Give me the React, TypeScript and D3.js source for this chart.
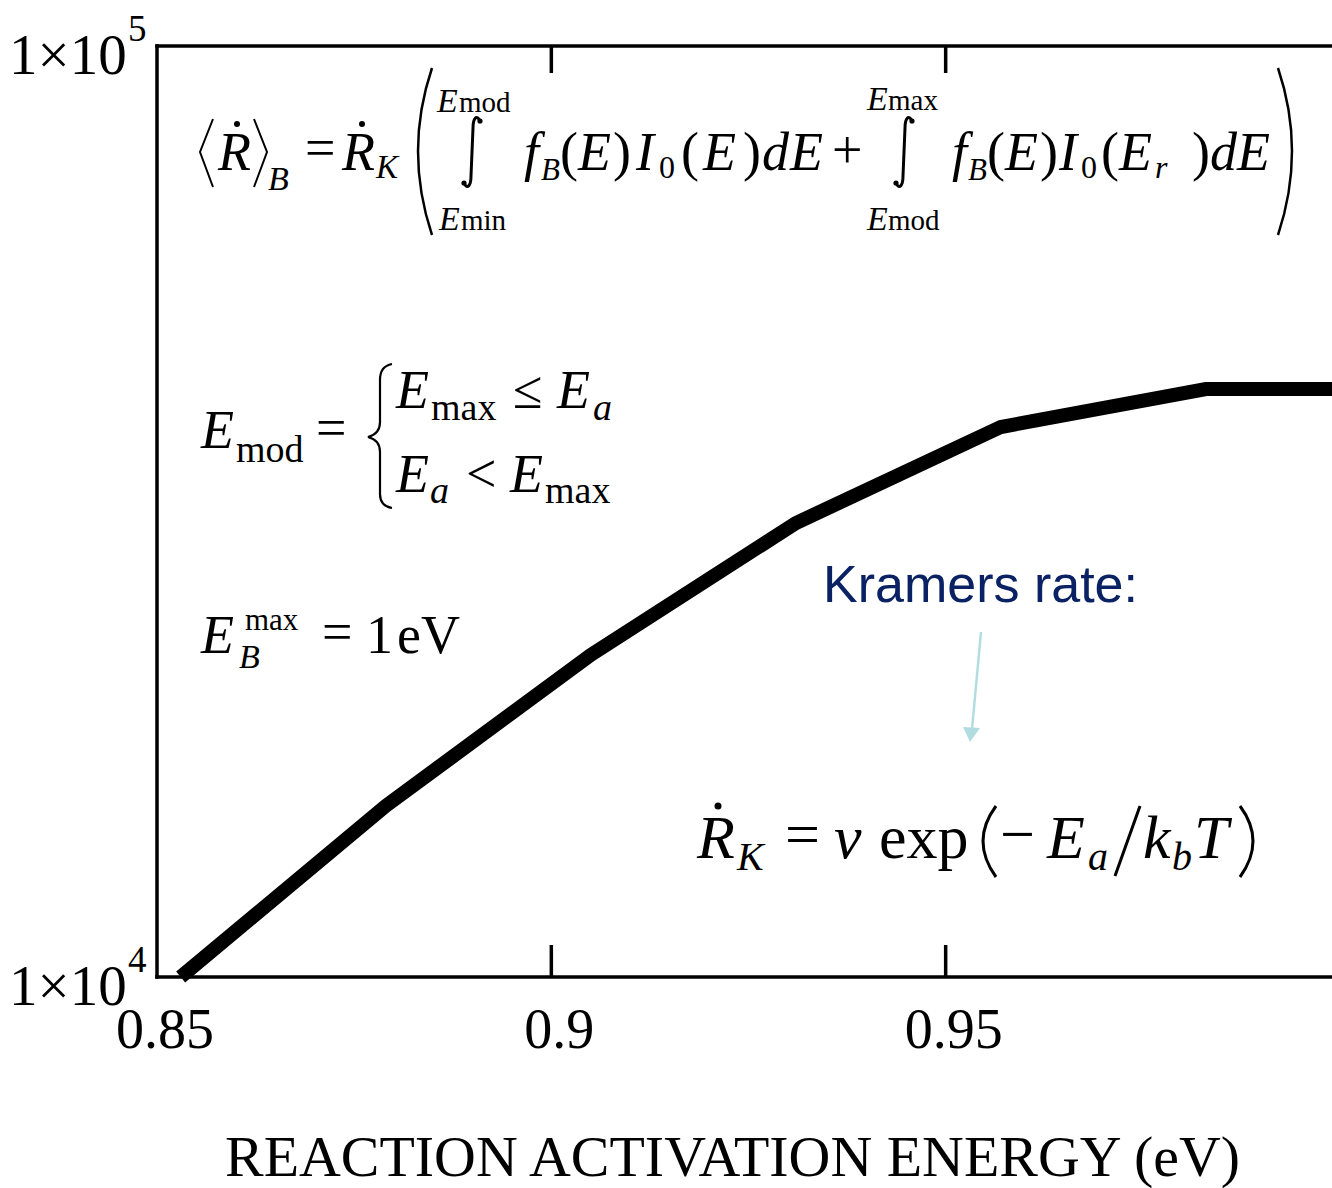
import React from "react";
import * as d3 from "d3";

const W = 1332;
const H = 1188;

// data
const energy = [0.853, 0.879, 0.905, 0.931, 0.957, 0.983, 1.0];
const rate = [10000, 15265, 22180, 30730, 38970, 42810, 42810];
const xTicks = [0.85, 0.9, 0.95];
const xTickLabels = ["0.85", "0.9", "0.95"];
const yTicks = [100000, 10000];
const yTickExp = ["5", "4"];
const xTitle = "REACTION ACTIVATION ENERGY (eV)";
const note = "Kramers rate:";

const SERIF = "'Liberation Serif', 'Times New Roman', Times, serif";
const SANS = "'Liberation Sans', Arial, Helvetica, sans-serif";

type P = { t: string; x: number; y: number; s: number; i?: boolean };

function Formula({ items }: { items: P[] }) {
  return (
    <text fontFamily={SERIF} fill="#000">
      {items.map((p, k) => (
        <tspan key={k} x={p.x} y={p.y} fontSize={p.s} fontStyle={p.i ? "italic" : "normal"}>
          {p.t}
        </tspan>
      ))}
    </text>
  );
}

function Integral({ x, y0, y1 }: { x: number; y0: number; y1: number }) {
  const d = `M ${x + 8} ${y0 + 5} C ${x + 5} ${y0 - 2}, ${x + 1} ${y0 + 2}, ${x + 1} ${y0 + 12} L ${x - 1} ${y1 - 12} C ${x - 1} ${y1 - 2}, ${x - 5} ${y1 + 2}, ${x - 8} ${y1 - 5}`;
  return (
    <g>
      <path d={d} fill="none" stroke="#000" strokeWidth={3} />
      <circle cx={x + 8} cy={y0 + 5} r={2.6} fill="#000" />
      <circle cx={x - 8} cy={y1 - 5} r={2.6} fill="#000" />
    </g>
  );
}

export default function App() {
  const x = d3.scaleLinear().domain([0.85, 1.0]).range([157, 1340]);
  const y = d3.scaleLog().domain([10000, 100000]).range([977, 46]);
  const line = d3
    .line<number>()
    .x((_, i) => x(energy[i]))
    .y((d) => y(d));
  const pathD = line(rate) || "";

  const x0 = x(0.85);
  const yTop = y(100000);
  const yBot = y(10000);

  // formula 1 (main row)
  const f1: P[] = [
    { t: "R", x: 218, y: 170, s: 54, i: true },
    { t: "B", x: 268, y: 190, s: 34, i: true },
    { t: "=", x: 305, y: 166, s: 54 },
    { t: "R", x: 342, y: 170, s: 54, i: true },
    { t: "K", x: 376, y: 178, s: 33, i: true },
    { t: "f", x: 524, y: 170, s: 54, i: true },
    { t: "B", x: 541, y: 180, s: 31, i: true },
    { t: "(", x: 560, y: 170, s: 54 },
    { t: "E", x: 578, y: 170, s: 54, i: true },
    { t: ")", x: 613, y: 170, s: 54 },
    { t: "I", x: 636, y: 170, s: 54, i: true },
    { t: "0", x: 659, y: 178, s: 32 },
    { t: "(", x: 681, y: 170, s: 54 },
    { t: "E", x: 703, y: 170, s: 54, i: true },
    { t: ")", x: 743, y: 170, s: 54 },
    { t: "d", x: 762, y: 170, s: 54, i: true },
    { t: "E", x: 790, y: 170, s: 54, i: true },
    { t: "+", x: 832, y: 168, s: 54 },
    { t: "f", x: 952, y: 170, s: 54, i: true },
    { t: "B", x: 968, y: 180, s: 31, i: true },
    { t: "(", x: 987, y: 170, s: 54 },
    { t: "E", x: 1005, y: 170, s: 54, i: true },
    { t: ")", x: 1040, y: 170, s: 54 },
    { t: "I", x: 1059, y: 170, s: 54, i: true },
    { t: "0", x: 1081, y: 178, s: 32 },
    { t: "(", x: 1101, y: 170, s: 54 },
    { t: "E", x: 1119, y: 170, s: 54, i: true },
    { t: "r", x: 1155, y: 178, s: 32, i: true },
    { t: ")", x: 1192, y: 170, s: 54 },
    { t: "d", x: 1210, y: 170, s: 54, i: true },
    { t: "E", x: 1237, y: 170, s: 54, i: true },
  ];
  const f1Limits: P[] = [
    { t: "E", x: 437, y: 112, s: 34, i: true },
    { t: "mod", x: 459, y: 112, s: 29 },
    { t: "E", x: 439, y: 230, s: 34, i: true },
    { t: "min", x: 461, y: 230, s: 29 },
    { t: "E", x: 867, y: 110, s: 34, i: true },
    { t: "max", x: 888, y: 110, s: 29 },
    { t: "E", x: 867, y: 230, s: 34, i: true },
    { t: "mod", x: 888, y: 230, s: 29 },
  ];

  // formula 2
  const f2: P[] = [
    { t: "E", x: 201, y: 448, s: 54, i: true },
    { t: "mod", x: 236, y: 462, s: 38 },
    { t: "=", x: 316, y: 446, s: 54 },
    { t: "E", x: 396, y: 408, s: 54, i: true },
    { t: "max", x: 431, y: 420, s: 38 },
    { t: "≤", x: 513, y: 408, s: 54 },
    { t: "E", x: 557, y: 408, s: 54, i: true },
    { t: "a", x: 593, y: 420, s: 38, i: true },
    { t: "E", x: 396, y: 492, s: 54, i: true },
    { t: "a", x: 430, y: 503, s: 38, i: true },
    { t: "<", x: 466, y: 492, s: 54 },
    { t: "E", x: 510, y: 492, s: 54, i: true },
    { t: "max", x: 545, y: 503, s: 38 },
  ];

  // formula 3
  const f3: P[] = [
    { t: "E", x: 201, y: 653, s: 54, i: true },
    { t: "max", x: 245, y: 630, s: 31 },
    { t: "B", x: 239, y: 668, s: 34, i: true },
    { t: "=", x: 322, y: 650, s: 54 },
    { t: "1", x: 366, y: 653, s: 54 },
    { t: "eV", x: 397, y: 653, s: 54 },
  ];

  // formula 4
  const f4: P[] = [
    { t: "R", x: 697, y: 858, s: 62, i: true },
    { t: "K", x: 737, y: 870, s: 40, i: true },
    { t: "=", x: 785, y: 855, s: 62 },
    { t: "ν", x: 834, y: 858, s: 62, i: true },
    { t: "exp", x: 879, y: 858, s: 62 },
    { t: "−", x: 1000, y: 855, s: 62 },
    { t: "E", x: 1047, y: 858, s: 62, i: true },
    { t: "a", x: 1088, y: 870, s: 40, i: true },
    { t: "k", x: 1143, y: 858, s: 62, i: true },
    { t: "b", x: 1172, y: 870, s: 40, i: true },
    { t: "T", x: 1194, y: 858, s: 62, i: true },
  ];

  return (
    <svg
      width={W}
      height={H}
      viewBox={`0 0 ${W} ${H}`}
      style={{ position: "absolute", left: 0, top: 0, background: "#fff" }}
    >
      <rect x={0} y={0} width={W} height={H} fill="#fff" />

      {/* frame */}
      <g stroke="#000" strokeWidth={3.5} strokeLinecap="square">
        <line x1={x0} y1={yTop} x2={W + 5} y2={yTop} />
        <line x1={x0} y1={yBot} x2={W + 5} y2={yBot} />
        <line x1={x0} y1={yTop} x2={x0} y2={yBot} />
      </g>
      {/* ticks */}
      <g stroke="#000" strokeWidth={3.5}>
        {xTicks.slice(1).map((t, i) => (
          <g key={i}>
            <line x1={x(t)} x2={x(t)} y1={yTop} y2={yTop + 27} />
            <line x1={x(t)} x2={x(t)} y1={yBot} y2={yBot - 32} />
          </g>
        ))}
      </g>

      {/* x tick labels */}
      <g fontFamily={SERIF} fontSize={56} textAnchor="middle">
        {xTicks.map((t, i) => (
          <text key={i} x={x(t) + 8} y={1048}>
            {xTickLabels[i]}
          </text>
        ))}
      </g>

      {/* y tick labels */}
      {yTicks.map((v, i) => (
        <text key={i} fontFamily={SERIF}>
          <tspan x={9} y={y(v) + 28} fontSize={57}>
            1×10
          </tspan>
          <tspan x={128} y={y(v) - 5} fontSize={37}>
            {yTickExp[i]}
          </tspan>
        </text>
      ))}

      {/* data line */}
      <path d={pathD} fill="none" stroke="#000" strokeWidth={14} strokeLinejoin="miter" />

      {/* formula 1 */}
      <Formula items={f1} />
      <Formula items={f1Limits} />
      <path d="M 213 119 L 200 152 L 213 187" fill="none" stroke="#000" strokeWidth={2} />
      <path d="M 254 119 L 267 152 L 254 187" fill="none" stroke="#000" strokeWidth={2} />
      <circle cx={237} cy={124} r={3} fill="#000" />
      <circle cx={362} cy={124} r={3} fill="#000" />
      <path d="M 432 68 Q 404 151 432 235" fill="none" stroke="#000" strokeWidth={2.5} />
      <path d="M 1278 68 Q 1306 151 1278 235" fill="none" stroke="#000" strokeWidth={2.5} />
      <Integral x={472} y0={116} y1={188} />
      <Integral x={904} y0={116} y1={188} />

      {/* formula 2 */}
      <Formula items={f2} />
      <path
        d="M 392 364 Q 380 366 380 380 L 380 422 Q 380 434 368 437 Q 380 440 380 452 L 380 494 Q 380 506 392 508"
        fill="none"
        stroke="#000"
        strokeWidth={2.2}
      />

      {/* formula 3 */}
      <Formula items={f3} />

      {/* formula 4 */}
      <Formula items={f4} />
      <circle cx={718} cy={806} r={3.5} fill="#000" />
      <path d="M 996 806 Q 970 841 996 877" fill="none" stroke="#000" strokeWidth={3} />
      <path d="M 1240 806 Q 1266 841 1240 877" fill="none" stroke="#000" strokeWidth={3} />
      <path d="M 1140 806 L 1115 876" fill="none" stroke="#000" strokeWidth={3} />

      {/* Kramers note */}
      <text x={823} y={602} fontFamily={SANS} fontSize={52} fill="#0a2263">
        {note}
      </text>
      <line x1={981} y1={632} x2={972} y2={729} stroke="#b2dce0" strokeWidth={2.5} />
      <polygon points="963,727 980,728 970,742" fill="#b2dce0" />

      {/* x title */}
      <text
        x={225}
        y={1176}
        fontFamily={SERIF}
        fontSize={58}
        textLength={1015}
        lengthAdjust="spacingAndGlyphs"
      >
        {xTitle}
      </text>
    </svg>
  );
}
